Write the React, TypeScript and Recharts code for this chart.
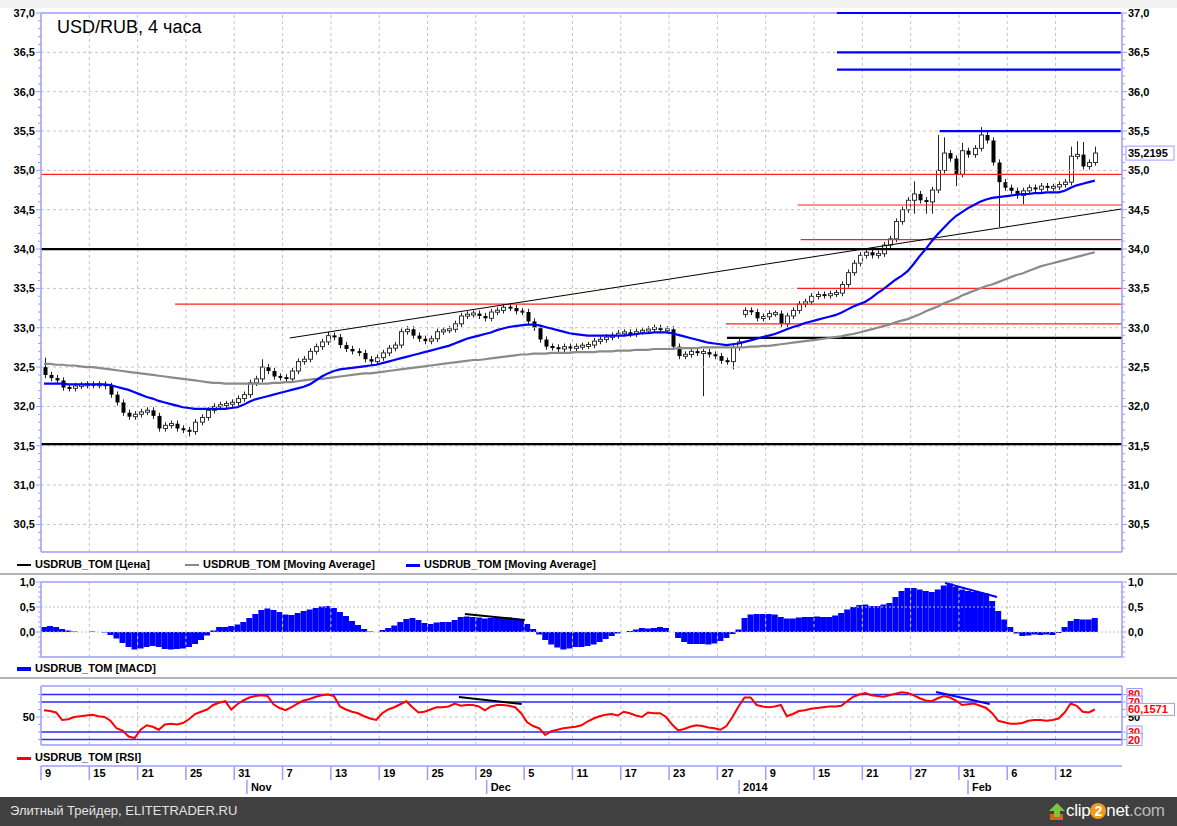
import React from "react";
import { ComposedChart, Bar, Line, XAxis, YAxis, ReferenceLine } from "recharts";

// USD/RUB 4h, Oct 2013 - Feb 2014; one point = two 4h bars
const FIRST_OPEN = 32.5;
const CLOSE = [
  32.40, 32.36, 32.33, 32.24, 32.23, 32.26, 32.27, 32.28, 32.27, 32.28,
  32.26, 32.15, 32.05, 31.92, 31.87, 31.90, 31.93, 31.95, 31.88, 31.72,
  31.76, 31.78, 31.72, 31.70, 31.68, 31.80, 31.86, 31.95, 32.00, 32.02,
  32.03, 32.05, 32.10, 32.15, 32.30, 32.35, 32.50, 32.45, 32.38, 32.37,
  32.35, 32.45, 32.57, 32.60, 32.70, 32.76, 32.82, 32.90, 32.88, 32.78,
  32.73, 32.70, 32.68, 32.60, 32.57, 32.62, 32.68, 32.74, 32.78, 32.95,
  32.98, 32.90, 32.86, 32.83, 32.86, 32.95, 32.97, 32.98, 33.05, 33.15,
  33.17, 33.18, 33.15, 33.12, 33.20, 33.22, 33.26, 33.25, 33.21, 33.20,
  33.08, 33.00, 32.85, 32.76, 32.75, 32.73, 32.76, 32.74, 32.76, 32.77,
  32.78, 32.83, 32.85, 32.88, 32.90, 32.93, 32.94, 32.92, 32.95, 32.96,
  32.98, 33.00, 32.97, 32.98, 32.76, 32.64, 32.66, 32.70, 32.68, 32.69,
  32.66, 32.64, 32.58, 32.57, 32.75, 32.82, 33.22, 33.20, 33.12, 33.14,
  33.18, 33.18, 33.05, 33.15, 33.22, 33.30, 33.33, 33.40, 33.42, 33.41,
  33.43, 33.44, 33.55, 33.70, 33.82, 33.92, 33.96, 33.92, 33.94, 34.05,
  34.13, 34.35, 34.50, 34.62, 34.70, 34.62, 34.60, 34.75, 35.00, 35.22,
  35.15, 34.95, 35.25, 35.20, 35.28, 35.45, 35.38, 35.10, 34.85, 34.78,
  34.74, 34.68, 34.74, 34.78, 34.76, 34.80, 34.78, 34.79, 34.82, 34.85,
  35.18, 35.20, 35.05, 35.10, 35.22,
];
// opens that do not follow the previous close (gap)
const OPEN_FIX: Record<number, number> = { 116: 33.17 };
const HIGH_WICKS: Record<number, number> = {
  0: 32.62, 36: 32.6, 47: 32.95, 76: 33.3, 144: 34.86, 148: 35.45, 149: 35.42,
  152: 35.35, 155: 35.55, 170: 35.3, 171: 35.37, 172: 35.36, 174: 35.3,
};
const LOW_WICKS: Record<number, number> = {
  24: 31.62, 109: 32.13, 114: 32.47, 144: 34.45, 146: 34.45, 147: 34.45,
  151: 34.8, 158: 34.28, 162: 34.57,
};

const MA_SLOW = [
  32.54, 32.54, 32.53, 32.53, 32.52, 32.52, 32.51, 32.50, 32.50, 32.49,
  32.48, 32.47, 32.46, 32.45, 32.44, 32.43, 32.42, 32.41, 32.40, 32.39,
  32.38, 32.37, 32.36, 32.35, 32.34, 32.33, 32.32, 32.31, 32.30, 32.30,
  32.29, 32.29, 32.29, 32.29, 32.29, 32.29, 32.29, 32.29, 32.30, 32.30,
  32.31, 32.31, 32.32, 32.33, 32.34, 32.35, 32.35, 32.36, 32.37, 32.38,
  32.39, 32.40, 32.41, 32.42, 32.42, 32.43, 32.44, 32.45, 32.46, 32.47,
  32.48, 32.49, 32.50, 32.51, 32.52, 32.53, 32.54, 32.55, 32.56, 32.57,
  32.58, 32.59, 32.59, 32.60, 32.61, 32.62, 32.63, 32.64, 32.65, 32.66,
  32.66, 32.67, 32.67, 32.67, 32.68, 32.68, 32.68, 32.68, 32.69, 32.69,
  32.69, 32.69, 32.70, 32.70, 32.70, 32.71, 32.71, 32.71, 32.72, 32.72,
  32.72, 32.73, 32.73, 32.73, 32.73, 32.74, 32.74, 32.74, 32.74, 32.75,
  32.75, 32.75, 32.75, 32.75, 32.75, 32.75, 32.75, 32.76, 32.76, 32.77,
  32.77, 32.78, 32.79, 32.80, 32.81, 32.82, 32.83, 32.84, 32.85, 32.86,
  32.87, 32.88, 32.89, 32.91, 32.92, 32.94, 32.96, 32.98, 33.00, 33.02,
  33.04, 33.07, 33.09, 33.11, 33.14, 33.17, 33.21, 33.24, 33.27, 33.31,
  33.34, 33.37, 33.41, 33.44, 33.47, 33.50, 33.53, 33.55, 33.58, 33.61,
  33.64, 33.67, 33.69, 33.72, 33.75, 33.78, 33.80, 33.82, 33.84, 33.86,
  33.88, 33.90, 33.92, 33.94, 33.96,
];

const MA_FAST = [
  32.29, 32.29, 32.29, 32.29, 32.28, 32.28, 32.28, 32.28, 32.28, 32.28,
  32.28, 32.27, 32.25, 32.23, 32.21, 32.18, 32.15, 32.12, 32.10, 32.07,
  32.05, 32.03, 32.01, 31.99, 31.98, 31.97, 31.97, 31.97, 31.97, 31.97,
  31.97, 31.98, 31.99, 32.02, 32.06, 32.09, 32.11, 32.13, 32.15, 32.17,
  32.19, 32.21, 32.23, 32.25, 32.28, 32.33, 32.38, 32.42, 32.45, 32.47,
  32.48, 32.49, 32.50, 32.51, 32.52, 32.53, 32.55, 32.57, 32.59, 32.61,
  32.63, 32.65, 32.67, 32.69, 32.71, 32.73, 32.75, 32.77, 32.80, 32.83,
  32.86, 32.88, 32.90, 32.92, 32.94, 32.97, 32.99, 33.01, 33.02, 33.03,
  33.04, 33.04, 33.03, 33.01, 32.99, 32.97, 32.95, 32.93, 32.92, 32.91,
  32.90, 32.90, 32.90, 32.90, 32.90, 32.90, 32.90, 32.91, 32.92, 32.93,
  32.93, 32.94, 32.94, 32.94, 32.93, 32.91, 32.89, 32.87, 32.85, 32.83,
  32.81, 32.80, 32.79, 32.78, 32.79, 32.80, 32.82, 32.84, 32.86, 32.88,
  32.90, 32.92, 32.95, 32.98, 33.01, 33.03, 33.06, 33.08, 33.10, 33.12,
  33.14, 33.16, 33.19, 33.23, 33.27, 33.30, 33.33, 33.38, 33.44, 33.49,
  33.55, 33.61, 33.66, 33.72, 33.81, 33.91, 34.00, 34.10, 34.19, 34.27,
  34.35, 34.42, 34.47, 34.52, 34.56, 34.60, 34.63, 34.65, 34.66, 34.67,
  34.68, 34.69, 34.70, 34.70, 34.71, 34.71, 34.72, 34.72, 34.72, 34.74,
  34.78, 34.81, 34.83, 34.85, 34.87,
];

const MACD = [
  0.10, 0.12, 0.10, 0.06, 0.03, 0.01, 0.00, 0.00, 0.01, 0.00,
  -0.01, -0.06, -0.13, -0.22, -0.30, -0.35, -0.33, -0.30, -0.28, -0.30,
  -0.34, -0.35, -0.34, -0.33, -0.30, -0.24, -0.16, -0.07, 0.03, 0.10,
  0.10, 0.12, 0.15, 0.20, 0.28, 0.36, 0.44, 0.47, 0.44, 0.40,
  0.35, 0.34, 0.38, 0.42, 0.45, 0.48, 0.51, 0.52, 0.48, 0.40,
  0.32, 0.22, 0.14, 0.06, 0.01, 0.00, 0.04, 0.08, 0.13, 0.20,
  0.26, 0.28, 0.24, 0.18, 0.16, 0.19, 0.20, 0.20, 0.24, 0.30,
  0.31, 0.30, 0.29, 0.27, 0.28, 0.30, 0.30, 0.29, 0.27, 0.24,
  0.16, 0.06, -0.05, -0.16, -0.25, -0.31, -0.35, -0.33, -0.30, -0.30,
  -0.28, -0.25, -0.20, -0.14, -0.08, -0.03, 0.00, 0.02, 0.05, 0.08,
  0.07, 0.08, 0.10, 0.08, 0.00, -0.12, -0.20, -0.24, -0.24, -0.24,
  -0.25, -0.23, -0.18, -0.12, -0.04, 0.05, 0.28, 0.35, 0.36, 0.36,
  0.36, 0.35, 0.30, 0.27, 0.27, 0.29, 0.30, 0.30, 0.31, 0.30,
  0.30, 0.33, 0.38, 0.45, 0.50, 0.54, 0.55, 0.52, 0.52, 0.55,
  0.58, 0.70, 0.82, 0.88, 0.88, 0.85, 0.82, 0.80, 0.85, 0.93,
  0.97, 0.90, 0.85, 0.82, 0.80, 0.80, 0.77, 0.62, 0.42, 0.25,
  0.10, -0.03, -0.08, -0.07, -0.05, -0.06, -0.05, -0.06, -0.02, 0.10,
  0.22, 0.26, 0.25, 0.25, 0.28,
];

const RSI = [
  59, 58, 56, 46, 47, 50, 51, 52, 53, 51,
  50, 45, 35, 32, 24, 22, 33, 39, 37, 33,
  40, 41, 40, 42, 47, 54, 57, 60, 66, 69,
  71, 60, 67, 72, 76, 78, 79, 78, 67, 62,
  59, 63, 68, 72, 74, 77, 79, 80, 78, 64,
  60, 57, 55, 51, 48, 46, 55, 60, 63, 67,
  71, 63, 56, 57, 60, 63, 63, 64, 68, 65,
  66, 66, 64, 59, 64, 66, 66, 65, 63, 55,
  43, 38, 35, 26, 31, 33, 35, 36, 37, 39,
  44, 48, 51, 53, 54, 52, 57, 55, 52, 50,
  56, 55, 55, 50, 40, 32, 34, 37, 39, 38,
  36, 35, 33, 38, 50, 64, 76, 76, 66, 64,
  63, 64, 66, 51, 54, 58, 59, 61, 62, 63,
  64, 64, 65, 71, 77, 80, 82, 79, 78, 77,
  79, 81, 83, 82, 79, 75, 72, 71, 75, 78,
  76, 72, 66, 67, 68, 65, 62, 55, 45, 43,
  41, 41, 42, 45, 46, 46, 45, 46, 48, 56,
  68, 65, 57, 56, 60,
];
const LAST_PRICE = 35.2195;
const LAST_RSI = 60.1571;

// horizontal levels: [price, from bar, to bar]
const BLACK_LEVELS = [[34.0, 0, 179], [31.52, 0, 179], [32.87, 113.6, 179]];
const RED_LEVELS = [
  [34.95, 0, 179], [33.3, 22.2, 179], [33.5, 125.2, 179], [33.05, 113.4, 179],
  [34.56, 125.3, 179], [34.12, 125.8, 179],
];
const BLUE_LEVELS = [[37.0, 131.8, 178.8], [36.5, 131.8, 178.8], [36.28, 131.8, 178.8], [35.5, 148.8, 178.8]];
const PRICE_TREND = [[41.2, 32.87], [179, 34.51]];
const MACD_TRENDS = [{ pts: [[70.2, 0.36], [80.1, 0.24]], c: "#000" }, { pts: [[149.7, 0.98], [158.3, 0.7]], c: "#0000ff" }];
const RSI_TRENDS = [{ pts: [[69.2, 76.7], [79.6, 67.3]], c: "#000" }, { pts: [[148.2, 83.3], [157.1, 67.3]], c: "#0000ff" }];
const RSI_LEVELS = [80, 70, 30, 20];

const DAY_TICKS = [0, 8, 16, 24, 32, 40, 48, 56, 64, 72, 80, 88, 96, 104, 112, 120, 128, 136, 144, 152, 160, 168];
const DAY_LABELS = ["9", "15", "21", "25", "31", "7", "13", "19", "25", "29", "5", "11", "17", "23", "27", "9", "15", "21", "27", "31", "6", "12"];
const MONTH_TICKS = [34.1, 73.8, 115.6, 153.5];
const MONTH_LABELS = ["Nov", "Dec", "2014", "Feb"];

const W = 1177;
const X_DOMAIN: [number, number] = [0, 179];
const AXIS = "#9c9cff";
const GRID = "#c4c4c4";
const FONT = "'Liberation Sans', Arial, sans-serif";
const PRICE_DOMAIN: [number, number] = [30.15, 37.0];
const MACD_DOMAIN: [number, number] = [-0.5, 1.0];
const RSI_DOMAIN: [number, number] = [12.7, 91.3];

const range = (a: number, b: number, step: number) => {
  const out: number[] = [];
  for (let v = a; v <= b + 1e-9; v += step) out.push(+v.toFixed(4));
  return out;
};
const PRICE_TICKS = [...range(30.2, 37.0, 0.1), LAST_PRICE];
const PRICE_GRID = range(30.5, 36.5, 0.5);
const MACD_TICKS = range(-0.5, 1.0, 0.1);
const RSI_LEFT_TICKS = [20, 30, 40, 50, 60, 70, 80];
const RSI_RIGHT_TICKS = [80, 70, 50, LAST_RSI, 30, 20];
const GRID_X = DAY_TICKS.slice(1);

const rows = CLOSE.map((c, i) => {
  const o = OPEN_FIX[i] ?? (i === 0 ? FIRST_OPEN : CLOSE[i - 1]);
  const hi = Math.max(HIGH_WICKS[i] ?? 0, Math.max(o, c) + 0.04);
  const lo = Math.min(LOW_WICKS[i] ?? 99, Math.min(o, c) - 0.04);
  return { x: i + 0.5, o, c, hi, lo, hl: [lo, hi], slow: MA_SLOW[i], fast: MA_FAST[i], macd: MACD[i], rsi: RSI[i] };
});

const fmt1 = (v: number) => v.toFixed(1).replace(".", ",");
const isHalf = (v: number) => Math.abs(v * 2 - Math.round(v * 2)) < 1e-6;

const Candle = (props: any) => {
  const { x, y, width, height, payload } = props;
  if (!payload || !Number.isFinite(y)) return null;
  const top = Math.min(y, y + height);
  const h = Math.abs(height);
  const span = payload.hi - payload.lo;
  const py = (v: number) => top + ((payload.hi - v) / span) * h;
  const cx = Math.round(x + width / 2) + 0.5;
  let b1 = py(Math.max(payload.o, payload.c));
  let b2 = py(Math.min(payload.o, payload.c));
  if (b2 - b1 < 2) {
    const m = (b1 + b2) / 2;
    b1 = m - 1;
    b2 = m + 1;
  }
  const up = payload.c >= payload.o;
  return (
    <g>
      <line x1={cx} x2={cx} y1={top} y2={top + h} stroke="#222" strokeWidth={1} />
      <rect x={cx - 2} y={b1} width={4} height={b2 - b1} fill={up ? "#fff" : "#000"} stroke="#333" strokeWidth={up ? 1 : 0} />
    </g>
  );
};

function axisTick(side: "left" | "right", label: (v: number) => string | null, boxed?: number) {
  return (props: any) => {
    const { x, y, payload } = props;
    const v = payload.value;
    const d = side === "left" ? -1 : 1;
    if (boxed !== undefined && v === boxed) {
      const t = v.toFixed(4).replace(".", ",");
      return (
        <g>
          <rect x={x + 4} y={y - 7} width={48} height={14} fill="#fff" stroke={AXIS} />
          <text x={x + 6} y={y + 4} fontFamily={FONT} fontSize={11} fontWeight="bold" fill="#000">{t}</text>
        </g>
      );
    }
    const text = label(v);
    return (
      <g>
        <line x1={x} x2={x + d * (text ? 5 : 3)} y1={y} y2={y} stroke={AXIS} />
        {text && (
          <text x={x + d * 6} y={y + 4} textAnchor={side === "left" ? "end" : "start"} fontFamily={FONT} fontSize={11} fontWeight="bold" fill="#000">
            {text}
          </text>
        )}
      </g>
    );
  };
}

const rsiRightTick = (props: any) => {
  const { x, y, payload } = props;
  const v = payload.value;
  const text = v === LAST_RSI ? v.toFixed(4).replace(".", ",") : String(v);
  const w = text.length * 6.5 + 2;
  return (
    <g>
      <line x1={x} x2={x + 4} y1={y} y2={y} stroke={AXIS} />
      {v !== 50 && <rect x={x + 5} y={y - 6} width={w} height={12} fill="#fff" stroke={AXIS} />}
      <text x={x + 6} y={y + 4} fontFamily={FONT} fontSize={11} fontWeight="bold" fill={v === 50 ? "#000" : "#ff0000"}>{text}</text>
    </g>
  );
};

// chart-local rows of the date strip: axis line at y=10
const dateTick = (props: any) => {
  const { x, payload } = props;
  const v = payload.value;
  const di = DAY_TICKS.indexOf(v);
  if (di >= 0) {
    return (
      <g>
        <line x1={x} x2={x} y1={10} y2={24} stroke={AXIS} strokeWidth={1.5} />
        <text x={x + 4} y={21} fontFamily={FONT} fontSize={11} fontWeight="bold" fill="#000">{DAY_LABELS[di]}</text>
      </g>
    );
  }
  const mi = MONTH_TICKS.indexOf(v);
  if (mi < 0) return <g />;
  return (
    <g>
      <line x1={x} x2={x} y1={24} y2={38} stroke={AXIS} strokeWidth={1.5} />
      <text x={x + 4} y={35} fontFamily={FONT} fontSize={11} fontWeight="bold" fill="#000">{MONTH_LABELS[mi]}</text>
    </g>
  );
};

const vGrid = (yid: string) =>
  GRID_X.map((g) => <ReferenceLine key={`vg${g}`} yAxisId={yid} x={g} stroke={GRID} strokeDasharray="3 3" />);

const frame = (yid: string, dom: [number, number]) => [
  <ReferenceLine key="ft" yAxisId={yid} y={dom[1]} stroke={AXIS} strokeWidth={1.5} />,
  <ReferenceLine key="fb" yAxisId={yid} y={dom[0]} stroke={AXIS} strokeWidth={1.5} />,
];

const yAxes = (dom: [number, number], leftTicks: number[], rightTicks: number[], leftTick: any, rightTick: any) => [
  <YAxis key="l" yAxisId="l" orientation="left" width={41} type="number" domain={dom} ticks={leftTicks} interval={0}
    axisLine={{ stroke: AXIS, strokeWidth: 1.5 }} tickLine={false} tickSize={0} tickMargin={0} tick={leftTick} allowDataOverflow />,
  <YAxis key="r" yAxisId="r" orientation="right" width={55} type="number" domain={dom} ticks={rightTicks} interval={0}
    axisLine={{ stroke: AXIS, strokeWidth: 1.5 }} tickLine={false} tickSize={0} tickMargin={0} tick={rightTick} allowDataOverflow />,
];

const legendText: React.CSSProperties = { position: "absolute", fontFamily: FONT, fontSize: 11, fontWeight: "bold", color: "#000", whiteSpace: "nowrap" };
const LegendItem = ({ x, y, color, thick, text }: { x: number; y: number; color: string; thick: number; text: string }) => (
  <>
    <div style={{ position: "absolute", left: x, top: y - thick / 2, width: 14, height: thick, background: color }} />
    <div style={{ ...legendText, left: x + 18, top: y - 7 }}>{text}</div>
  </>
);

export default function App() {
  return (
    <div style={{ position: "absolute", left: 0, top: 0, width: W, height: 826, background: "#fff", overflow: "hidden" }}>
      <div style={{ position: "absolute", left: 0, top: 0, width: W, height: 8, background: "#f2f2f2" }} />

      {/* price panel */}
      <div style={{ position: "absolute", left: 0, top: 0 }}>
        <ComposedChart width={W} height={560} data={rows} margin={{ top: 13, right: 0, bottom: 8, left: 0 }}>
          <XAxis type="number" dataKey="x" domain={X_DOMAIN} hide />
          {yAxes(
            PRICE_DOMAIN,
            PRICE_TICKS.filter((t) => t !== LAST_PRICE),
            PRICE_TICKS,
            axisTick("left", (v) => (isHalf(v) && v >= 30.5 ? fmt1(v) : null)),
            axisTick("right", (v) => (isHalf(v) && v >= 30.5 ? fmt1(v) : null), LAST_PRICE)
          )}
          {PRICE_GRID.map((g) => (
            <ReferenceLine key={`hg${g}`} yAxisId="l" y={g} stroke={GRID} strokeDasharray="3 3" />
          ))}
          {vGrid("l")}
          {frame("l", PRICE_DOMAIN)}
          {RED_LEVELS.map(([p, a, b], k) => (
            <ReferenceLine key={`rl${k}`} yAxisId="l" segment={[{ x: a, y: p }, { x: b, y: p }]} stroke="#ff2020" strokeWidth={1.2} />
          ))}
          {BLACK_LEVELS.map(([p, a, b], k) => (
            <ReferenceLine key={`bl${k}`} yAxisId="l" segment={[{ x: a, y: p }, { x: b, y: p }]} stroke="#000" strokeWidth={2.2} />
          ))}
          {BLUE_LEVELS.map(([p, a, b], k) => (
            <ReferenceLine key={`ul${k}`} yAxisId="l" segment={[{ x: a, y: p }, { x: b, y: p }]} stroke="#0000ff" strokeWidth={2.2} />
          ))}
          <ReferenceLine yAxisId="l" segment={PRICE_TREND.map(([x, y]) => ({ x, y }))} stroke="#000" strokeWidth={1} />
          <Line yAxisId="l" dataKey="slow" stroke="#8a8a8a" strokeWidth={2.2} dot={false} isAnimationActive={false} />
          <Line yAxisId="l" dataKey="fast" stroke="#0000ff" strokeWidth={2.2} dot={false} isAnimationActive={false} />
          <Bar yAxisId="l" dataKey="hl" barSize={5} shape={<Candle />} isAnimationActive={false} />
        </ComposedChart>
      </div>
      <div style={{ position: "absolute", left: 57, top: 17, fontFamily: FONT, fontSize: 18, color: "#000" }}>USD/RUB, 4 часа</div>

      <LegendItem x={17} y={565} color="#000" thick={2} text="USDRUB_TOM [Цена]" />
      <LegendItem x={185} y={565} color="#8a8a8a" thick={2} text="USDRUB_TOM [Moving Average]" />
      <LegendItem x={406} y={565} color="#0000ff" thick={3} text="USDRUB_TOM [Moving Average]" />
      <div style={{ position: "absolute", left: 0, top: 573, width: W, height: 2, background: "#b4b4b4" }} />

      {/* MACD panel */}
      <div style={{ position: "absolute", left: 0, top: 572 }}>
        <ComposedChart width={W} height={90} data={rows} margin={{ top: 10, right: 0, bottom: 5, left: 0 }}>
          <XAxis type="number" dataKey="x" domain={X_DOMAIN} hide />
          {yAxes(
            MACD_DOMAIN,
            MACD_TICKS,
            MACD_TICKS,
            axisTick("left", (v) => (isHalf(v) && v >= 0 ? fmt1(v) : null)),
            axisTick("right", (v) => (isHalf(v) && v >= 0 ? fmt1(v) : null))
          )}
          {[0, 0.5].map((g) => (
            <ReferenceLine key={`mg${g}`} yAxisId="l" y={g} stroke={GRID} strokeDasharray="2 2" />
          ))}
          {vGrid("l")}
          {frame("l", MACD_DOMAIN)}
          <Bar yAxisId="l" dataKey="macd" barSize={6} fill="#0000ff" isAnimationActive={false} />
          {MACD_TRENDS.map((t, k) => (
            <ReferenceLine key={`mt${k}`} yAxisId="l" segment={t.pts.map(([x, y]) => ({ x, y }))} stroke={t.c} strokeWidth={2} />
          ))}
        </ComposedChart>
      </div>
      <LegendItem x={17} y={669} color="#0000ff" thick={4} text="USDRUB_TOM [MACD]" />
      <div style={{ position: "absolute", left: 0, top: 677, width: W, height: 2, background: "#b4b4b4" }} />

      {/* RSI panel */}
      <div style={{ position: "absolute", left: 0, top: 676 }}>
        <ComposedChart width={W} height={74} data={rows} margin={{ top: 10, right: 0, bottom: 5, left: 0 }}>
          <XAxis type="number" dataKey="x" domain={X_DOMAIN} hide />
          {yAxes(
            RSI_DOMAIN,
            RSI_LEFT_TICKS,
            RSI_RIGHT_TICKS,
            axisTick("left", (v) => (v === 50 ? "50" : null)),
            rsiRightTick
          )}
          <ReferenceLine yAxisId="l" y={50} stroke={GRID} strokeDasharray="3 3" />
          {vGrid("l")}
          {frame("l", RSI_DOMAIN)}
          {RSI_LEVELS.map((g) => (
            <ReferenceLine key={`rs${g}`} yAxisId="l" y={g} stroke="#2a2aff" strokeWidth={1.5} />
          ))}
          <Line yAxisId="l" dataKey="rsi" stroke="#ff0000" strokeWidth={2} dot={false} isAnimationActive={false} />
          {RSI_TRENDS.map((t, k) => (
            <ReferenceLine key={`rt${k}`} yAxisId="l" segment={t.pts.map(([x, y]) => ({ x, y }))} stroke={t.c} strokeWidth={2} />
          ))}
        </ComposedChart>
      </div>
      <LegendItem x={17} y={758} color="#ff0000" thick={3} text="USDRUB_TOM [RSI]" />

      {/* date axis */}
      <div style={{ position: "absolute", left: 0, top: 756 }}>
        <ComposedChart width={W} height={44} data={rows} margin={{ top: 0, right: 55, bottom: 0, left: 41 }}>
          <XAxis type="number" dataKey="x" domain={X_DOMAIN} height={34}
            ticks={[...DAY_TICKS, ...MONTH_TICKS]} interval={0} axisLine={{ stroke: AXIS, strokeWidth: 1.5 }}
            tickLine={false} tickSize={0} tickMargin={0} tick={dateTick} />
          <YAxis hide domain={[0, 100]} />
          <Line dataKey="rsi" stroke="transparent" dot={false} isAnimationActive={false} />
        </ComposedChart>
      </div>

      {/* footer */}
      <div style={{ position: "absolute", left: 0, top: 797, width: W, height: 29, background: "#404040" }}>
        <div style={{ position: "absolute", left: 10, top: 6, fontFamily: FONT, fontSize: 13, color: "#e4e4e4" }}>
          Элитный Трейдер, ELITETRADER.RU
        </div>
        <svg style={{ position: "absolute", left: 1048, top: 5 }} width={18} height={20}>
          <rect x={2} y={12} width={13} height={6} fill="#e85a1a" />
          <polygon points="9,1 17,9 12,9 12,15 6,15 6,9 1,9" fill="#7fc241" />
        </svg>
        <div style={{ position: "absolute", left: 1066, top: 4, fontFamily: FONT, fontSize: 17, color: "#fff", whiteSpace: "nowrap", letterSpacing: -0.3 }}>
          clip
          <span style={{ display: "inline-block", width: 16, height: 16, borderRadius: 8, background: "#f39a1b", textAlign: "center", lineHeight: "16px", fontSize: 14, fontWeight: "bold" }}>2</span>
          net<span style={{ color: "#b8b8b8" }}>.com</span>
        </div>
      </div>
    </div>
  );
}
